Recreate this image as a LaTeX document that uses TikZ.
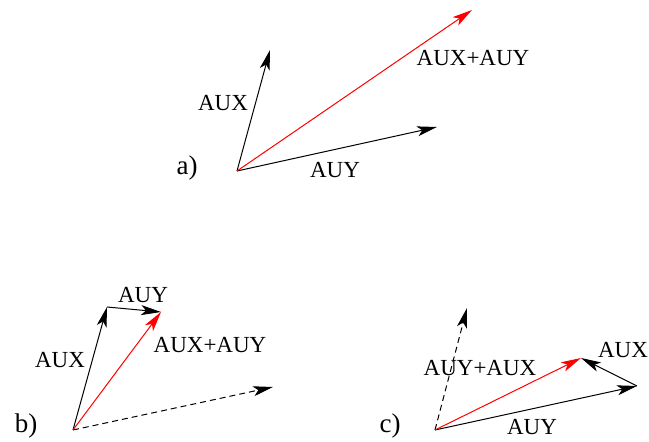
\documentclass[tikz,border=0pt]{standalone}
\usepackage{fontspec}
\setmainfont{Liberation Serif}
\usetikzlibrary{arrows.meta}

\tikzset{
  vec/.style={-{Stealth[length=10pt,width=5pt,inset=2.5pt]}, line width=0.5pt},
  sumvec/.style={vec, red},
  helpvec/.style={vec, dash pattern=on 3pt off 2pt},
  lbl/.style={inner sep=0pt, font=\fontsize{11.5}{13}\selectfont},
  tag/.style={inner sep=0pt, font=\fontsize{13.5}{15}\selectfont}
}

\begin{document}
\begin{tikzpicture}[x=0.5pt, y=-0.5pt]
  \useasboundingbox (0,0) rectangle (649,442);
  % a) both vectors from one point
  \coordinate (oa) at (237,171);
  \coordinate (auxa) at (270,50);
  \coordinate (auya) at (437,127);
  \coordinate (suma) at (472,10);
  \draw[vec] (oa) -- (auxa);
  \draw[vec] (oa) -- (auya);
  \draw[sumvec] (oa) -- (suma);
  \node[tag] (taga) at (187,168) {a)};
  \node[lbl] (auxlbla) at (223,103) {AUX};
  \node[lbl] (auylbla) at (335,170) {AUY};
  \node[lbl] (sumlbla) at (473,58) {AUX+AUY};
  % b) AUY put on the tip of AUX
  \coordinate (ob) at (73,430);
  \coordinate (auxb) at (107,307);
  \coordinate (sumb) at (161,312);
  \coordinate (auyb) at (273,387);
  \draw[vec] (ob) -- (auxb);
  \draw[vec] (auxb) -- (sumb);
  \draw[helpvec] (ob) -- (auyb);
  \draw[sumvec] (ob) -- (sumb);
  \node[tag] (tagb) at (26,426) {b)};
  \node[lbl] (auxlblb) at (60,360) {AUX};
  \node[lbl] (auylblb) at (143,295) {AUY};
  \node[lbl] (sumlblb) at (210,345) {AUX+AUY};
  % c) AUX put on the tip of AUY
  \coordinate (oc) at (435,430);
  \coordinate (auyc) at (637,386);
  \coordinate (sumc) at (581,358);
  \coordinate (auxc) at (467,308);
  \draw[vec] (oc) -- (auyc);
  \draw[vec] (auyc) -- (sumc);
  \draw[helpvec] (oc) -- (auxc);
  \draw[sumvec] (oc) -- (sumc);
  \node[tag] (tagc) at (390,426) {c)};
  \node[lbl] (auxlblc) at (623,350) {AUX};
  \node[lbl] (auylblc) at (532,427) {AUY};
  \node[lbl] (sumlblc) at (480,368) {AUY+AUX};
\end{tikzpicture}
\end{document}
